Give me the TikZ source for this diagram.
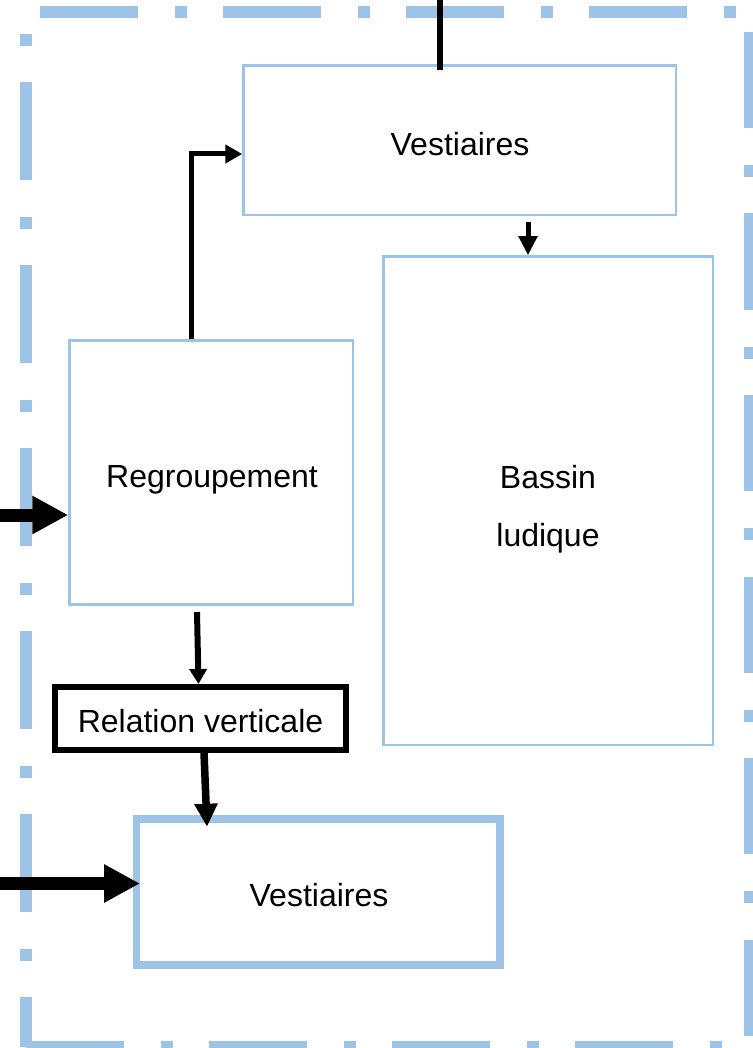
\documentclass[tikz,border=0pt]{standalone}
\usepackage{fontspec}
\setmainfont{Liberation Sans}
\usetikzlibrary{arrows.meta,calc}
\definecolor{bord}{RGB}{157,195,230}
\begin{document}
\begin{tikzpicture}[x=1pt,y=-1pt,
  frame/.style={draw=bord,line width=12pt},
  toppat/.style={dash pattern=on 98pt off 37pt on 12pt off 36pt},
  rightpat/.style={dash pattern=on 96pt off 37pt on 12pt off 36.5pt},
  box/.style={draw=bord,line width=2.5pt,rectangle,inner sep=0pt},
  thickbox/.style={draw=bord,line width=7.5pt,rectangle,inner sep=0pt},
  blackbox/.style={draw=black,line width=6pt,rectangle,inner sep=0pt},
  lbl/.style={font=\fontsize{32pt}{38pt}\selectfont,inner sep=0pt,anchor=base},
  conn/.style={draw=black,line width=5pt},
  bigarrow/.style={draw=black,line width=13pt,-{Triangle[length=36pt,width=36pt]}}
]
\useasboundingbox (0,0) rectangle (752,1048);

% dash-dot frame
\draw[frame,toppat,dash phase=169pt] (26,12) -- (750,12);
\draw[frame,toppat,dash phase=113pt] (26,12) -- (26,1047);
\draw[frame,rightpat,dash phase=161.5pt] (750,12) -- (750,1047);
\draw[frame,toppat,dash phase=0pt] (26,1047) -- (750,1047);

% boxes
\node[box,minimum width=432.5pt,minimum height=149.5pt] (v1) at (459.75,140.25) {};
\node[lbl] (v1t) at (460,156) {Vestiaires};

\node[box,minimum width=329.5pt,minimum height=488.5pt] (bas) at (548.25,500.75) {};
\node[lbl,align=center,anchor=north,font=\fontsize{32pt}{58pt}\selectfont] (bast) at (548,465.3) {Bassin\\ludique};

\node[box,minimum width=283.5pt,minimum height=264pt] (reg) at (211.25,472.5) {};
\node[lbl] (regt) at (212,487) {Regroupement};

\node[blackbox,minimum width=291pt,minimum height=63pt] (rel) at (200.5,718.5) {};
\node[lbl] (relt) at (200.5,732) {Relation verticale};

\node[thickbox,minimum width=363.5pt,minimum height=146pt] (v2) at (318.25,892) {};
\node[lbl] (v2t) at (319,906) {Vestiaires};

% connectors
\coordinate (ext) at (440,-3);
\coordinate (in1) at (-3,515);
\coordinate (in2) at (-3,883.5);
\coordinate (a2s) at ($(v1.south)+(68.25,5.75)$);

\draw[conn,line width=6pt] ($(v1.north)+(-19.75,5.5)$) -- (ext);
\draw[conn,-{Triangle[length=17pt,width=18pt]}] ($(reg.north)+(-19.75,0)$) |- ($(v1.west)+(0,13.75)$);
\draw[conn,-{Triangle[length=19pt,width=18pt]}] (a2s) -- (a2s |- bas.north);
\draw[bigarrow] (in1) -- (in1 -| reg.west);
\draw[conn,line width=6pt,-{Triangle[length=15pt,width=17pt]}] ($(reg.south)+(-14.25,6.25)$) -- ($(rel.north)+(-2,0)$);
\draw[conn,line width=7.5pt,-{Triangle[length=23pt,width=22pt]}] ($(rel.south)+(3.5,0)$) -- ($(v2.north)+(-111.25,11.5)$);
\draw[bigarrow] (in2) -- ($(in2 -| v2.west)+(7.25,0)$);
\end{tikzpicture}
\end{document}
